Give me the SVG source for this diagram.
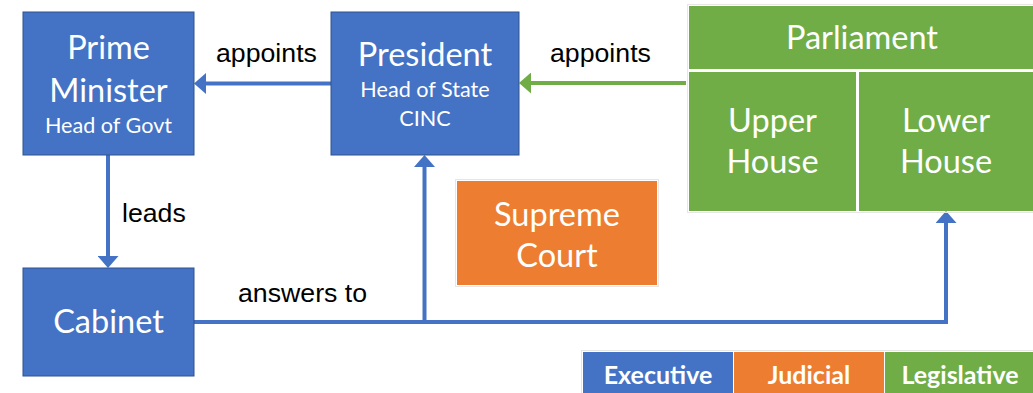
<svg xmlns="http://www.w3.org/2000/svg" width="1033" height="393" viewBox="0 0 1033 393">
  <defs>
    <style>
      .exec { fill: #4472C4; stroke: #2F528F; stroke-width: 1; }
      .jud { fill: #ED7D31; }
      .leg { fill: #70AD47; }
      .halo { fill: none; stroke: #E6E6E6; stroke-width: 1; }
      .t { font-family: Lato, "Open Sans", sans-serif; fill: #FFFFFF; text-anchor: middle; }
      .big { font-size: 32.5px; }
      .sub { font-size: 21.6px; }
      .key { font-family: Lato, "Open Sans", sans-serif; font-weight: bold; font-size: 25px; fill: #FFFFFF; text-anchor: middle; }
      .lbl { font-family: "Liberation Sans", Arial, sans-serif; font-size: 26.7px; fill: #000000; }
      .wire { fill: none; stroke-width: 4; }
      .blue { stroke: #4472C4; }
      .green { stroke: #70AD47; }
    </style>
    <marker id="headBlue" markerUnits="userSpaceOnUse" viewBox="0 0 12 21" markerWidth="12" markerHeight="21" refX="0" refY="10.5" orient="auto">
      <path d="M0,0 L12,10.5 L0,21 Z" fill="#4472C4"/>
    </marker>
    <marker id="headGreen" markerUnits="userSpaceOnUse" viewBox="0 0 12 21" markerWidth="12" markerHeight="21" refX="0" refY="10.5" orient="auto">
      <path d="M0,0 L12,10.5 L0,21 Z" fill="#70AD47"/>
    </marker>
  </defs>

  <rect width="1033" height="393" fill="#FFFFFF"/>

  <!-- connectors -->
  <g id="connectors">
    <path class="wire blue" d="M331,83.5 H206" marker-end="url(#headBlue)"/>
    <path class="wire green" d="M686,83 H531" marker-end="url(#headGreen)"/>
    <path class="wire blue" d="M108,155 V256" marker-end="url(#headBlue)"/>
    <path class="wire blue" d="M194,322 H946 V223" marker-end="url(#headBlue)"/>
    <path class="wire blue" d="M424.5,322 V167" marker-end="url(#headBlue)"/>
    <text class="lbl" x="216" y="62">appoints</text>
    <text class="lbl" x="550" y="62">appoints</text>
    <text class="lbl" x="122" y="222">leads</text>
    <text class="lbl" x="238" y="302">answers to</text>
  </g>

  <!-- executive -->
  <g id="prime-minister">
    <rect class="exec" x="23" y="12" width="171" height="143"/>
    <text class="t big" x="108.5" y="59">Prime</text>
    <text class="t big" x="108.5" y="102">Minister</text>
    <text class="t sub" x="108.5" y="133">Head of Govt</text>
  </g>

  <g id="president">
    <rect class="exec" x="331" y="12" width="188" height="143"/>
    <text class="t big" x="425" y="66">President</text>
    <text class="t sub" x="425" y="97">Head of State</text>
    <text class="t sub" x="425" y="126">CINC</text>
  </g>

  <g id="cabinet">
    <rect class="exec" x="23" y="268" width="171" height="108"/>
    <text class="t big" x="108.5" y="333">Cabinet</text>
  </g>

  <!-- judicial -->
  <g id="supreme-court">
    <rect class="halo" x="455.5" y="179.5" width="203" height="107"/>
    <rect class="jud" x="457" y="181" width="200" height="104"/>
    <text class="t big" x="557" y="226">Supreme</text>
    <text class="t big" x="557" y="267">Court</text>
  </g>

  <!-- legislative -->
  <g id="parliament">
    <rect class="halo" x="687.5" y="4.5" width="350" height="208"/>
    <rect class="leg" x="689" y="6" width="350" height="63"/>
    <text class="t big" x="862" y="49">Parliament</text>
  </g>

  <g id="upper-house">
    <rect class="leg" x="689" y="72" width="167" height="139"/>
    <text class="t big" x="772.5" y="132">Upper</text>
    <text class="t big" x="772.5" y="173">House</text>
  </g>

  <g id="lower-house">
    <rect class="leg" x="859" y="72" width="180" height="139"/>
    <text class="t big" x="946" y="132">Lower</text>
    <text class="t big" x="946" y="173">House</text>
  </g>

  <!-- key -->
  <g id="key">
    <rect class="halo" x="581.5" y="350.5" width="460" height="50"/>
    <rect x="583" y="352" width="150" height="45" fill="#4472C4"/>
    <rect x="734" y="352" width="150" height="45" fill="#ED7D31"/>
    <rect x="885" y="352" width="150" height="45" fill="#70AD47"/>
    <text class="key" x="658" y="384">Executive</text>
    <text class="key" x="809" y="384">Judicial</text>
    <text class="key" x="960" y="384">Legislative</text>
  </g>
</svg>
